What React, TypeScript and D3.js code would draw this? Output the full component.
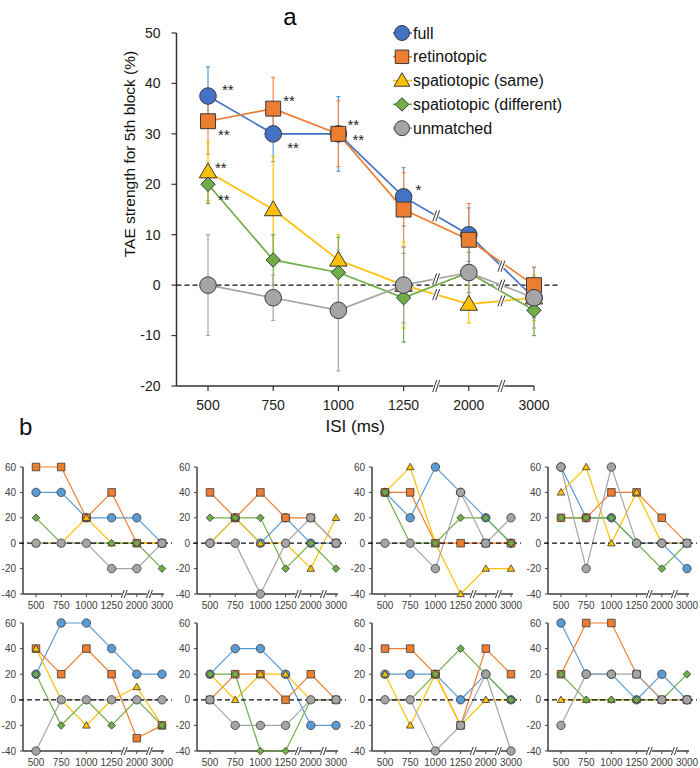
import React, { useEffect, useRef } from 'react';
import * as d3 from 'd3';

const categories = ['500', '750', '1000', '1250', '2000', '3000'];
const seriesNames = ['full', 'retinotopic', 'spatiotopic (same)', 'spatiotopic (different)', 'unmatched'];
const seriesColors = ['#4472C4', '#ED7D31', '#FFC000', '#70AD47', '#A5A5A5'];
const errColors = ['#5B9BD5', '#F08A4B', '#FFC000', '#70AD47', '#A5A5A5'];
const smallColors = ['#5B9BD5', '#ED7D31', '#FFC000', '#70AD47', '#A5A5A5'];
const shapes = ['circle', 'square', 'triangle', 'diamond', 'circle'];

// group means (%)
const meanFull = [37.5, 30, 30, 17.5, 10, -2.5];
const meanRetino = [32.5, 35, 30, 15, 9, 0];
const meanSame = [22.5, 15, 5, 0, -3.75, -2.5];
const meanDiff = [20, 5, 2.5, -2.5, 2.5, -5];
const meanUnmatched = [0, -2.5, -5, 0, 2.5, -2.5];

// error bars (+/-)
const errFull = [5.8, 5.5, 7.4, 5.8, 5.3, 4];
const errRetino = [6.5, 6.2, 6.5, 7.3, 7.2, 3.6];
const errSame = [5.8, 10.5, 5, 8.5, 3.75, 4.5];
const errDiff = [3.8, 5, 7, 8.8, 4, 5];
const errUnmatched = [10, 4.5, 12, 7.5, 5, 6];

const topTicks = [50, 40, 30, 20, 10, 0, -10, -20];
const smallTicks = [60, 40, 20, 0, -20, -40];

// significance marks: series, category, text
const starSeries = [0, 1, 1, 0, 1, 0, 0, 2, 3];
const starCats = [0, 0, 1, 1, 2, 2, 3, 0, 0];
const starText = ['**', '**', '**', '**', '**', '**', '*', '**', '**'];
const starDx = [14, 10, 10, 14, 9, 14, 12, 7, 10];
const starDy = [-10, 10, -12, 10, -13, 2, -11, -8, 12];

// individual observers: full, retinotopic, same, different, unmatched
const subj1 = [[40, 40, 20, 20, 20, 0], [60, 60, 20, 40, 0, 0], [0, 0, 20, 0, 0, 0], [20, 0, 0, 0, 0, -20], [0, 0, 0, -20, -20, 0]];
const subj2 = [[0, 20, 0, 20, 0, 0], [40, 20, 40, 20, 20, 0], [0, 20, 0, 0, -20, 20], [20, 20, 20, -20, 0, -20], [0, 0, -40, 0, 20, 0]];
const subj3 = [[40, 20, 60, 40, 20, 0], [40, 40, 0, 0, 0, 0], [40, 60, 0, -40, -20, -20], [40, 0, 0, 20, 20, 0], [0, 0, -20, 40, 0, 20]];
const subj4 = [[60, 20, 20, 0, 0, -20], [20, 20, 40, 40, 20, 0], [40, 60, 0, 40, 0, 0], [20, 20, 20, 0, -20, 0], [60, -20, 60, 0, 0, 0]];
const subj5 = [[20, 60, 60, 40, 20, 20], [40, 20, 40, 20, -30, -20], [40, 0, -20, 0, 10, -20], [20, -20, 0, -20, 0, -20], [-40, 0, 0, 0, 0, 0]];
const subj6 = [[20, 40, 40, 20, -20, -20], [0, 20, 20, 0, 20, 0], [20, 0, 20, 20, 0, 0], [20, 20, -40, -40, 0, 0], [0, -20, -20, -20, 0, 0]];
const subj7 = [[20, 20, 20, 0, 20, 0], [40, 40, 20, -20, 40, 20], [20, -20, 20, -20, 0, 0], [0, 0, 20, 40, 20, 0], [0, 0, -40, -20, 20, -40]];
const subj8 = [[60, 20, 20, 0, 20, 0], [20, 60, 60, 20, 0, 0], [0, 0, 0, 0, 0, 0], [20, 0, 0, 0, 0, 20], [-20, 20, 20, 20, 0, 0]];

const subjects = [subj1, subj2, subj3, subj4, subj5, subj6, subj7, subj8];
const means = [meanFull, meanRetino, meanSame, meanDiff, meanUnmatched];
const errs = [errFull, errRetino, errSame, errDiff, errUnmatched];

const FONT = 'Arial, "Liberation Sans", sans-serif';

const markerPath = (shape: string, s: number) => {
  if (shape === 'circle') {
    return d3.symbol(d3.symbolCircle, Math.PI * s * s)() as string;
  }
  if (shape === 'square') {
    const h = s * 0.9;
    return `M${-h},${-h}L${h},${-h}L${h},${h}L${-h},${h}Z`;
  }
  if (shape === 'triangle') {
    const w = s * 1.05;
    return `M0,${-s * 1.05}L${w},${s * 0.75}L${-w},${s * 0.75}Z`;
  }
  const a = s * 0.9;
  return `M0,${-a}L${a},0L0,${a}L${-a},0Z`;
};

const drawBreak = (g: any, x: number, y: number, h: number, w: number) => {
  g.append('path')
    .attr('d', `M${x - w - 1},${y + h / 2}L${x - 1},${y - h / 2}L${x + w + 1},${y - h / 2}L${x + 1},${y + h / 2}Z`)
    .attr('fill', '#fff');
  [-1.5, 1.5].forEach(o => {
    g.append('line')
      .attr('x1', x + o - w / 2).attr('y1', y + h / 2)
      .attr('x2', x + o + w / 2).attr('y2', y - h / 2)
      .attr('stroke', '#333').attr('stroke-width', 1);
  });
};

const App = () => {
  const ref = useRef<SVGSVGElement>(null);

  useEffect(() => {
    document.body.style.margin = '0';
    const svg = d3.select(ref.current);
    svg.selectAll('*').remove();

    // ---------- panel a ----------
    const x = d3.scalePoint<string>().domain(categories).range([208, 534]);
    const y = d3.scaleLinear().domain([-20, 50]).range([386, 33]);
    const axisX = 176.5;
    const a = svg.append('g');

    a.append('text').text('a').attr('x', 290).attr('y', 25)
      .attr('text-anchor', 'middle').attr('font-family', FONT).attr('font-size', 24);

    // y axis
    a.append('line').attr('x1', axisX).attr('x2', axisX).attr('y1', y(50)).attr('y2', y(-20))
      .attr('stroke', '#333').attr('stroke-width', 1.5);
    topTicks.forEach(t => {
      a.append('line').attr('x1', axisX - 5).attr('x2', axisX).attr('y1', y(t)).attr('y2', y(t))
        .attr('stroke', '#333').attr('stroke-width', 1.2);
      a.append('text').text(t).attr('x', axisX - 16).attr('y', y(t)).attr('dy', '0.35em')
        .attr('text-anchor', 'end').attr('font-family', FONT).attr('font-size', 14).attr('fill', '#222');
    });
    a.append('text').text('TAE strength for 5th block (%)')
      .attr('transform', 'translate(135,154) rotate(-90)')
      .attr('text-anchor', 'middle').attr('font-family', FONT).attr('font-size', 15.5).attr('fill', '#111');

    // x axis
    a.append('line').attr('x1', axisX).attr('x2', x('3000')!).attr('y1', y(-20)).attr('y2', y(-20))
      .attr('stroke', '#333').attr('stroke-width', 1.5);
    categories.forEach(c => {
      a.append('line').attr('x1', x(c)!).attr('x2', x(c)!).attr('y1', y(-20)).attr('y2', y(-20) + 5)
        .attr('stroke', '#333').attr('stroke-width', 1.2);
      a.append('text').text(c).attr('x', x(c)!).attr('y', y(-20) + 24)
        .attr('text-anchor', 'middle').attr('font-family', FONT).attr('font-size', 14).attr('fill', '#222');
    });
    const b1 = (x('1250')! + x('2000')!) / 2;
    const b2 = (x('2000')! + x('3000')!) / 2;
    drawBreak(a, b1, y(-20), 12, 4);
    drawBreak(a, b2, y(-20), 12, 4);
    a.append('text').text('ISI (ms)').attr('x', (axisX + x('3000')!) / 2).attr('y', 432)
      .attr('text-anchor', 'middle').attr('font-family', FONT).attr('font-size', 17).attr('fill', '#111');

    // zero line
    a.append('line').attr('x1', axisX).attr('x2', 558).attr('y1', y(0)).attr('y2', y(0))
      .attr('stroke', '#111').attr('stroke-width', 1.3).attr('stroke-dasharray', '5,3');

    // error bars
    means.forEach((m, si) => {
      m.forEach((v, ci) => {
        const cx = x(categories[ci])!;
        const e = errs[si][ci];
        const eg = a.append('g').attr('stroke', errColors[si]).attr('stroke-width', 1.2);
        eg.append('line').attr('x1', cx).attr('x2', cx).attr('y1', y(v + e)).attr('y2', y(v - e));
        [v + e, v - e].forEach(t => {
          eg.append('line').attr('x1', cx - 2).attr('x2', cx + 2).attr('y1', y(t)).attr('y2', y(t));
        });
      });
    });

    // lines, breaks and markers
    const line = d3.line<number>().x((d, i) => x(categories[i])!).y(d => y(d));
    means.forEach((m, si) => {
      a.append('path').attr('d', line(m)).attr('fill', 'none')
        .attr('stroke', seriesColors[si]).attr('stroke-width', 1.7);
    });
    means.forEach((m, si) => {
      if (si === 1 || si === 3) return;
      drawBreak(a, b1, y((m[3] + m[4]) / 2), 11, 4);
      drawBreak(a, b2, y((m[4] + m[5]) / 2), 11, 4);
    });
    means.forEach((m, si) => {
      m.forEach((v, ci) => {
        a.append('path').attr('d', markerPath(shapes[si], shapes[si] === 'diamond' ? 8 : 8.3))
          .attr('transform', `translate(${x(categories[ci])},${y(v)})`)
          .attr('fill', seriesColors[si]).attr('stroke', '#3a3a3a').attr('stroke-width', 1);
      });
    });

    // significance
    starText.forEach((t, i) => {
      const cx = x(categories[starCats[i]])!;
      const cy = y(means[starSeries[i]][starCats[i]]);
      a.append('text').text(t).attr('x', cx + starDx[i]).attr('y', cy + starDy[i] + 9)
        .attr('font-family', FONT).attr('font-size', 15).attr('fill', '#222');
    });

    // legend
    seriesNames.forEach((n, i) => {
      const ly = 33 + i * 23.8;
      a.append('line').attr('x1', 393).attr('x2', 412).attr('y1', ly).attr('y2', ly)
        .attr('stroke', seriesColors[i]).attr('stroke-width', 1.7);
      a.append('path').attr('d', markerPath(shapes[i], 7.5))
        .attr('transform', `translate(402,${ly})`)
        .attr('fill', seriesColors[i]).attr('stroke', '#3a3a3a').attr('stroke-width', 1);
      a.append('text').text(n).attr('x', 413).attr('y', ly).attr('dy', '0.35em')
        .attr('font-family', FONT).attr('font-size', 16).attr('fill', '#111');
    });

    // ---------- panel b ----------
    svg.append('text').text('b').attr('x', 19).attr('y', 435)
      .attr('font-family', FONT).attr('font-size', 24).attr('fill', '#111');

    const colAxes = [23, 197, 372, 548];
    const rowRanges = [[594, 467], [751, 623]];

    subjects.forEach((subj, k) => {
      const ax = colAxes[k % 4];
      const [yb, yt] = rowRanges[Math.floor(k / 4)];
      const sx = d3.scalePoint<string>().domain(categories).range([ax + 13, ax + 139]);
      const sy = d3.scaleLinear().domain([-40, 60]).range([yb, yt]);
      const g = svg.append('g');

      g.append('line').attr('x1', ax).attr('x2', ax).attr('y1', sy(60)).attr('y2', sy(-40))
        .attr('stroke', '#404040').attr('stroke-width', 1.5);
      smallTicks.forEach(t => {
        g.append('line').attr('x1', ax - 3).attr('x2', ax).attr('y1', sy(t)).attr('y2', sy(t))
          .attr('stroke', '#404040').attr('stroke-width', 1);
        g.append('text').text(t).attr('x', ax - 7).attr('y', sy(t)).attr('dy', '0.35em')
          .attr('text-anchor', 'end').attr('font-family', FONT).attr('font-size', 10).attr('fill', '#404040');
      });
      g.append('line').attr('x1', ax).attr('x2', sx('3000')! + 2).attr('y1', sy(-40)).attr('y2', sy(-40))
        .attr('stroke', '#404040').attr('stroke-width', 1.5);
      categories.forEach(c => {
        g.append('line').attr('x1', sx(c)!).attr('x2', sx(c)!).attr('y1', sy(-40)).attr('y2', sy(-40) + 3)
          .attr('stroke', '#404040').attr('stroke-width', 1);
        g.append('text').text(c).attr('x', sx(c)!).attr('y', sy(-40) + 15)
          .attr('text-anchor', 'middle').attr('font-family', FONT).attr('font-size', 10).attr('fill', '#404040');
      });
      drawBreak(g, (sx('1250')! + sx('2000')!) / 2, sy(-40), 8, 3);
      drawBreak(g, (sx('2000')! + sx('3000')!) / 2, sy(-40), 8, 3);

      const sl = d3.line<number>().x((d, i) => sx(categories[i])!).y(d => sy(d));
      subj.forEach((vals, si) => {
        g.append('path').attr('d', sl(vals)).attr('fill', 'none')
          .attr('stroke', smallColors[si]).attr('stroke-width', 1.2);
      });
      g.append('line').attr('x1', ax - 4).attr('x2', sx('3000')! + 10).attr('y1', sy(0)).attr('y2', sy(0))
        .attr('stroke', '#111').attr('stroke-width', 1.3).attr('stroke-dasharray', '5,3');
      subj.forEach((vals, si) => {
        vals.forEach((v, ci) => {
          g.append('path').attr('d', markerPath(shapes[si], shapes[si] === 'triangle' ? 3.6 : 4.2))
            .attr('transform', `translate(${sx(categories[ci])},${sy(v)})`)
            .attr('fill', smallColors[si]).attr('stroke', '#3a3a3a').attr('stroke-width', 0.8);
        });
      });
    });
  }, []);

  return (
    <svg ref={ref} width={700} height={768} viewBox="0 0 700 768"
      style={{ display: 'block', background: '#fff' }} />
  );
};

export default App;
